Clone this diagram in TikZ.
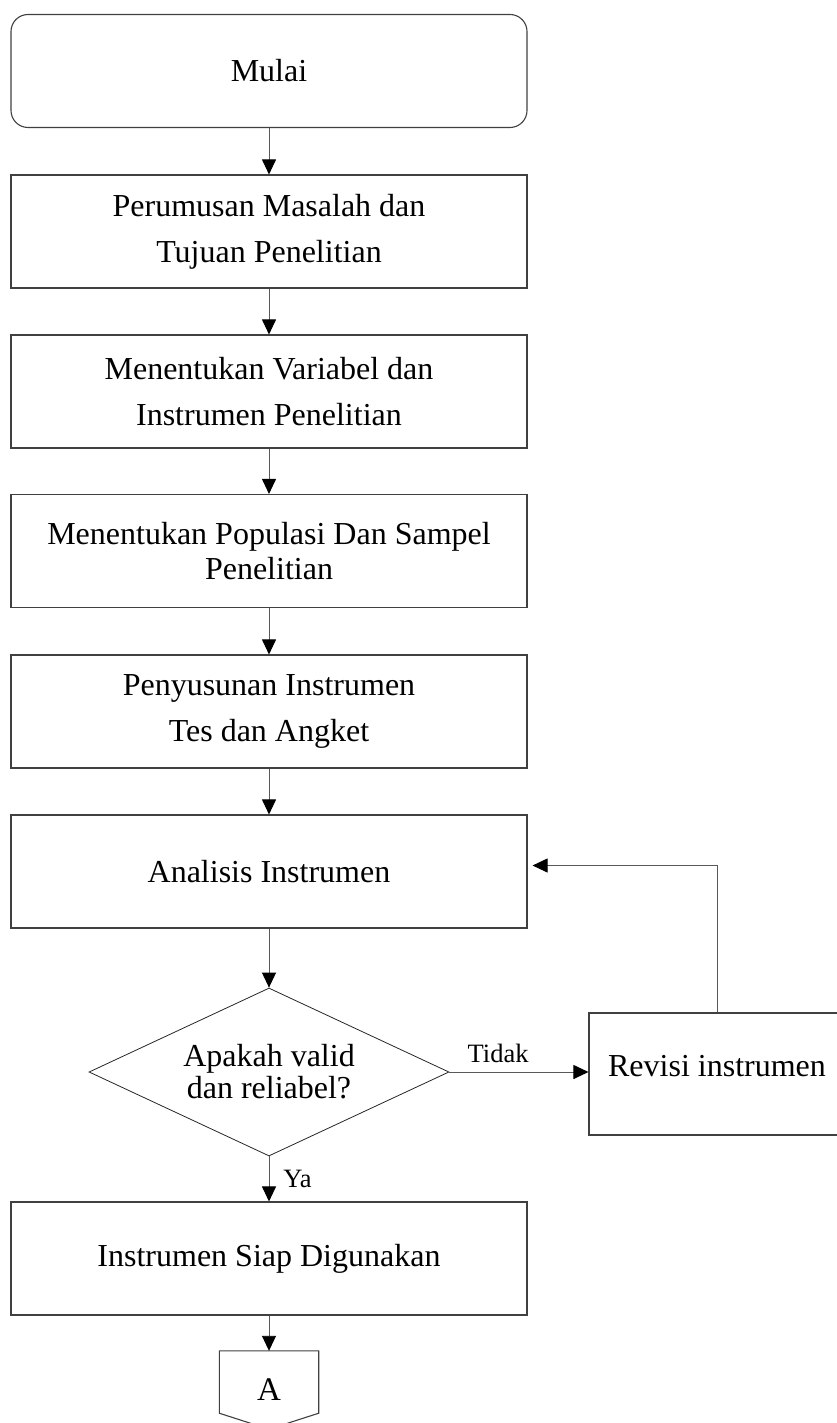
\documentclass[tikz,border=0pt]{standalone}
\usepackage{fontspec}
\setmainfont{Liberation Serif}
\usepackage{tikz}
\usetikzlibrary{arrows.meta, shapes.geometric}
\tikzset{%
	every box/.style={
		rectangle,
		draw=black!75,
		line width=1.1pt,
		minimum width=516pt,
		minimum height=113pt,
		inner sep=0pt,
		align=center,
		font=\fontsize{32}{46}\selectfont
	},
	decision/.style={
		diamond,
		draw=black!85,
		line width=0.8pt,
		aspect=2.14,
		minimum width=360pt,
		minimum height=168pt,
		inner sep=0pt,
		align=center,
		font=\fontsize{32}{32}\selectfont
	},
	flow line/.style={
		draw=black!65,
		line width=0.9pt
	},
	flow label/.style={
		inner sep=2pt,
		font=\fontsize{26.5}{30}\selectfont
	},
}
\begin{document}
\begin{tikzpicture}[x=1pt, y=-1pt, >={Triangle[length=15pt, width=14pt, color=black]}]
			\useasboundingbox (0,0) rectangle (837,1423);
			
			% Main column
			\node[every box, rounded corners=17pt] (mulai) at (269,71) {Mulai};
			\node[every box] (rumusan) at (269,231.5) {Perumusan Masalah dan\\Tujuan Penelitian};
			\node[every box] (variabel) at (269,391.5) {Menentukan Variabel dan\\Instrumen Penelitian};
			\node[every box, font=\fontsize{32}{35}\selectfont] (populasi) at (269,551) {Menentukan Populasi Dan Sampel\\Penelitian};
			\node[every box] (penyusunan) at (269,711.5) {Penyusunan Instrumen\\Tes dan Angket};
			\node[every box] (analisis) at (269,871.5) {Analisis Instrumen};
			\node[decision] (valid) at (269,1072) {Apakah valid\\dan reliabel?};
			\node[every box] (siap) at (269,1258.5) {Instrumen Siap Digunakan};
			
			% Side box
			\node[every box, minimum width=256pt, minimum height=122pt, text depth=17pt] (revisi) at (717,1074) {Revisi instrumen};
			
			% Off-page connector
			\node[minimum width=99pt, minimum height=78pt, inner sep=0pt, font=\fontsize{33}{36}\selectfont] (konektor) at (269,1390) {A};
			\draw[draw=black!75, line width=1.1pt] (konektor.north west) -- (konektor.north east) -- ([yshift=16pt]konektor.south east) -- (konektor.south) -- ([yshift=16pt]konektor.south west) -- cycle;
			
			% Connectors
			\draw[flow line, ->] (mulai) -- (rumusan);
			\draw[flow line, ->] (rumusan) -- (variabel);
			\draw[flow line, ->] (variabel) -- (populasi);
			\draw[flow line, ->] (populasi) -- (penyusunan);
			\draw[flow line, ->] (penyusunan) -- (analisis);
			\draw[flow line, ->] (analisis) -- (valid);
			\draw[flow line, ->] (valid) -- node[flow label, right=12pt, pos=0.5] {Ya} (siap);
			\draw[flow line, ->] (siap) -- (konektor);
			\draw[flow line, ->] (valid.east) -- node[flow label, above=7pt, pos=0.35] {Tidak} (valid.east -| revisi.west);
			\draw[flow line, ->, shorten >=5pt] (revisi.north) |- ([yshift=6pt]analisis.east);
		\end{tikzpicture}
\end{document}
